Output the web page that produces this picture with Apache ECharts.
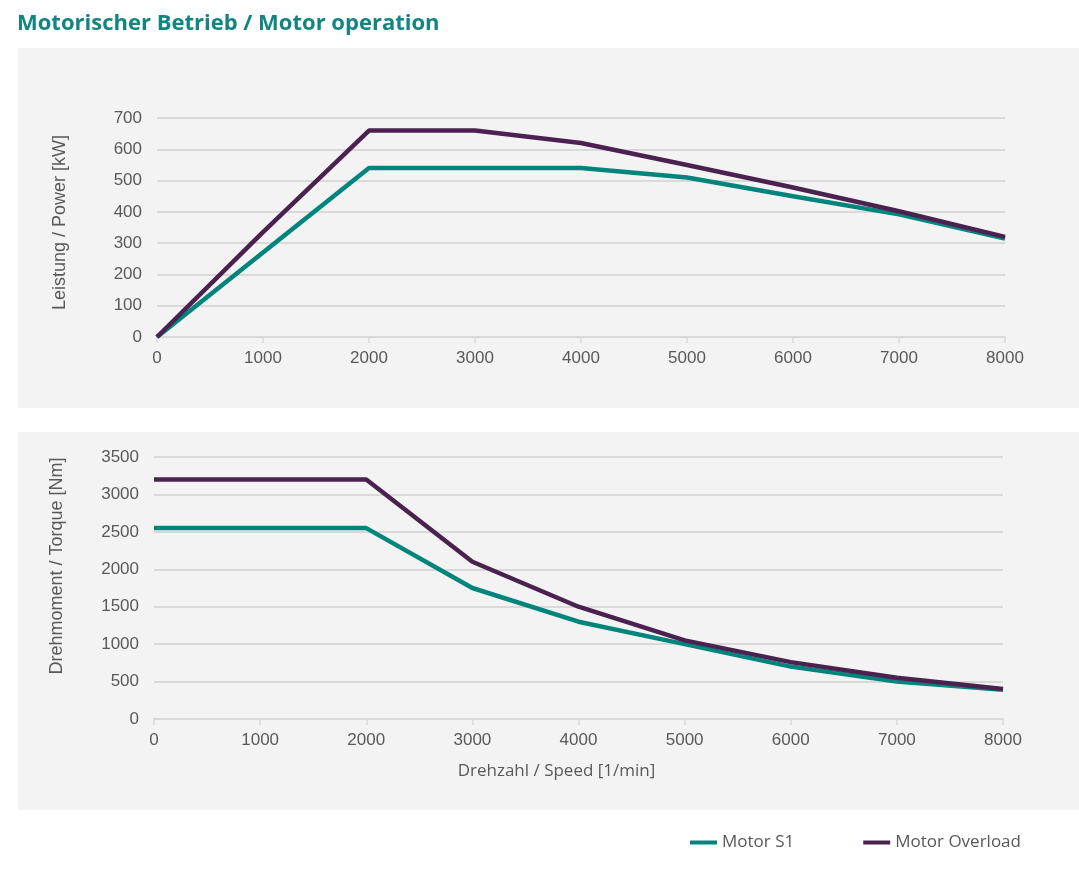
<!DOCTYPE html>
<html>
<head>
<meta charset="utf-8">
<script src="https://cdn.jsdelivr.net/npm/echarts@6/dist/echarts.min.js"></script>
<style>html,body{margin:0;padding:0;background:#fff;}#c{width:1079px;height:887px;}</style>
</head>
<body>
<div id="c"></div>
<script>
var speed = [0, 1000, 2000, 3000, 4000, 5000, 6000, 7000, 8000];
var powerS1 = [0, 270, 540, 540, 540, 510, 450, 392, 315];
var powerOverload = [0, 335, 660, 660, 620, 550, 478, 402, 320];
var torqueS1 = [2550, 2550, 2550, 1750, 1300, 1000, 700, 500, 390];
var torqueOverload = [3200, 3200, 3200, 2100, 1500, 1050, 760, 550, 400];
var seriesNames = ['Motor S1', 'Motor Overload'];

function pairs(xs, ys) { return xs.map(function (x, i) { return [x, ys[i]]; }); }
function plain(v) { return String(v); }

var teal = '#00857c';
var purple = '#4b2150';
var labelColor = '#595959';
var gridColor = '#d9d9d9';

function xAxis(gridIndex, name) {
  return {
    type: 'value', gridIndex: gridIndex, min: 0, max: 8000, interval: 1000,
    name: name || '', nameLocation: 'middle', nameGap: 44,
    nameTextStyle: { fontFamily: 'Open Sans', fontSize: 17, color: labelColor, padding: [0, 44, 0, 0] },
    axisLine: { show: true, lineStyle: { color: gridColor, width: 2 } },
    axisTick: { show: true, length: 6, lineStyle: { color: gridColor, width: 1.5 } },
    axisLabel: { fontFamily: 'Liberation Sans', fontSize: 17, color: labelColor, margin: 13, formatter: plain },
    splitLine: { show: false }
  };
}
function yAxis(gridIndex, max, interval, name, pad) {
  return {
    type: 'value', gridIndex: gridIndex, min: 0, max: max, interval: interval,
    name: name, nameLocation: 'middle', nameGap: 88, nameRotate: 90,
    nameTextStyle: { fontFamily: 'Liberation Sans', fontSize: 18, color: labelColor, padding: pad },
    axisLine: { show: false }, axisTick: { show: false },
    axisLabel: { fontFamily: 'Liberation Sans', fontSize: 17, color: labelColor, margin: 15, formatter: plain },
    splitLine: { show: true, lineStyle: { color: gridColor, width: 2 } }
  };
}
function line(name, color, xi, data) {
  return {
    name: name, type: 'line', xAxisIndex: xi, yAxisIndex: xi, data: data,
    showSymbol: false, symbol: 'none', smooth: false,
    lineStyle: { color: color, width: 4.5 }, itemStyle: { color: color }
  };
}

var chart = echarts.init(document.getElementById('c'), null, { renderer: 'canvas' });
chart.setOption({
  animation: false,
  backgroundColor: '#ffffff',
  title: {
    text: 'Motorischer Betrieb / Motor operation', left: 12, top: 8,
    textStyle: { fontFamily: 'Open Sans', fontWeight: 'bold', fontSize: 22, color: '#138580' }
  },
  graphic: [
    { type: 'rect', z: -10, shape: { x: 18, y: 48, width: 1061, height: 360 }, style: { fill: '#f3f3f3' } },
    { type: 'rect', z: -10, shape: { x: 18, y: 432, width: 1061, height: 378 }, style: { fill: '#f3f3f3' } }
  ],
  legend: {
    data: seriesNames, left: 685, top: 829, itemWidth: 27, itemHeight: 4, itemGap: 69,
    icon: 'rect',
    textStyle: { fontFamily: 'Open Sans', fontSize: 17, color: labelColor, padding: [0, 0, 0, 0] }
  },
  grid: [
    { left: 157, right: 74, top: 118, height: 219 },
    { left: 154, right: 76, top: 457, height: 262 }
  ],
  xAxis: [xAxis(0), xAxis(1, 'Drehzahl / Speed [1/min]')],
  yAxis: [
    yAxis(0, 700, 100, 'Leistung / Power [kW]', [0, 0, 0, 10]),
    yAxis(1, 3500, 500, 'Drehmoment / Torque [Nm]', [0, 0, 0, 44])
  ],
  series: [
    line(seriesNames[0], teal, 0, pairs(speed, powerS1)),
    line(seriesNames[1], purple, 0, pairs(speed, powerOverload)),
    line(seriesNames[0], teal, 1, pairs(speed, torqueS1)),
    line(seriesNames[1], purple, 1, pairs(speed, torqueOverload))
  ]
});
</script>
</body>
</html>
